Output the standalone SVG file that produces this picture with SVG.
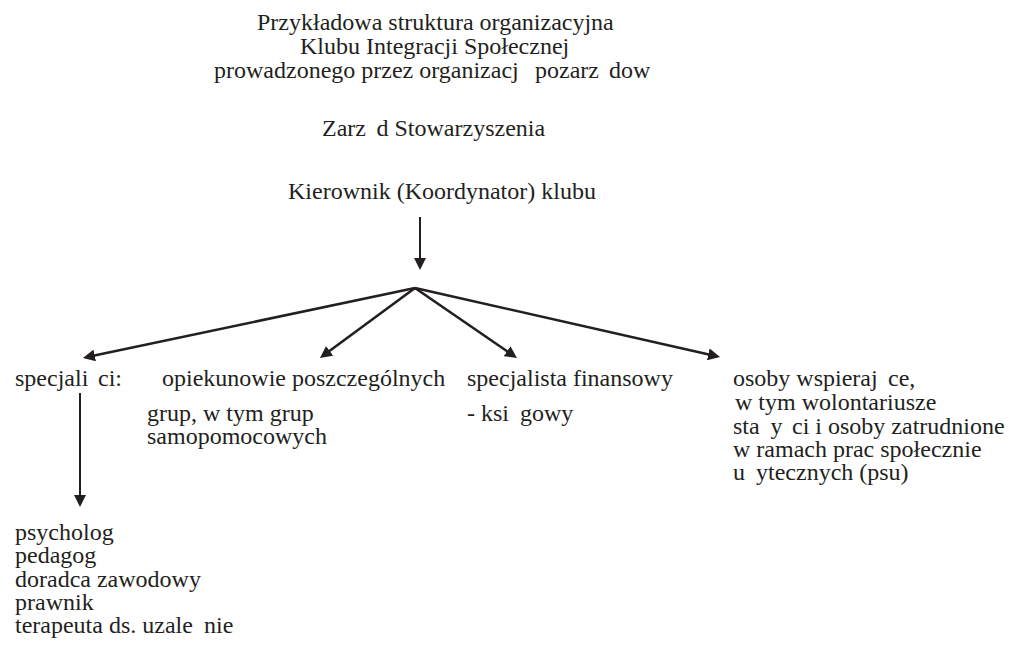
<svg xmlns="http://www.w3.org/2000/svg" width="1009" height="651" viewBox="0 0 1009 651">
<style>
text{font-family:"Liberation Serif","Times New Roman",serif;font-size:24px;fill:#231f20}
.c{fill:none;stroke:#231f20;stroke-width:2.6}
.v{fill:none;stroke:#231f20;stroke-width:2}
</style>
<defs>
<marker id="ah" viewBox="0 0 12 12" refX="4" refY="6" markerWidth="12" markerHeight="12" markerUnits="userSpaceOnUse" orient="auto">
<path d="M0,0 L12,6 L0,12 z" fill="#231f20"/>
</marker>
</defs>
<rect width="1009" height="651" fill="#ffffff"/>
<g id="title">
<text x="257" y="30">Przykładowa struktura organizacyjna</text>
<text x="300" y="54">Klubu Integracji Społecznej</text>
<text x="214" y="78">prowadzonego przez organizacj<tspan x="535">pozarz</tspan><tspan x="609">dow</tspan></text>
</g>
<g id="zarzad"><text x="322" y="136">Zarz<tspan x="376.5">d Stowarzyszenia</tspan></text></g>
<g id="kierownik"><text x="288" y="199">Kierownik (Koordynator) klubu</text></g>
<g id="specjalisci"><text x="15" y="386">specjali<tspan x="98">ci:</tspan></text></g>
<g id="opiekunowie">
<text x="162" y="386">opiekunowie poszczególnych</text>
<text x="147" y="421">grup, w tym grup</text>
<text x="147" y="444">samopomocowych</text>
</g>
<g id="finansowy">
<text x="467" y="386">specjalista finansowy</text>
<text x="467" y="421">- ksi<tspan x="520">gowy</tspan></text>
</g>
<g id="wspierajace">
<text x="733" y="386">osoby wspieraj<tspan x="888">ce,</tspan></text>
<text x="735" y="410">w tym wolontariusze</text>
<text x="733" y="434">sta<tspan x="770.5">y</tspan><tspan x="792">ci i osoby zatrudnione</tspan></text>
<text x="733" y="457">w ramach prac społecznie</text>
<text x="733" y="480">u<tspan x="756">ytecznych (psu)</tspan></text>
</g>
<g id="lista">
<text x="15" y="540">psycholog</text>
<text x="15" y="563">pedagog</text>
<text x="15" y="587">doradca zawodowy</text>
<text x="15" y="610">prawnik</text>
<text x="15" y="633">terapeuta ds. uzale<tspan x="204">nie</tspan></text>
</g>
<g id="connectors">
<line class="v" x1="420" y1="217" x2="420" y2="262" marker-end="url(#ah)"/>
<line class="c" x1="415" y1="288" x2="90.8" y2="356.3" marker-end="url(#ah)"/>
<line class="c" x1="415" y1="288" x2="326.4" y2="353.3" marker-end="url(#ah)"/>
<line class="c" x1="415" y1="288" x2="510.4" y2="353.5" marker-end="url(#ah)"/>
<line class="c" x1="415" y1="288" x2="712.2" y2="355.2" marker-end="url(#ah)"/>
<line class="v" x1="80" y1="393" x2="80" y2="499" marker-end="url(#ah)"/>
</g>
</svg>
